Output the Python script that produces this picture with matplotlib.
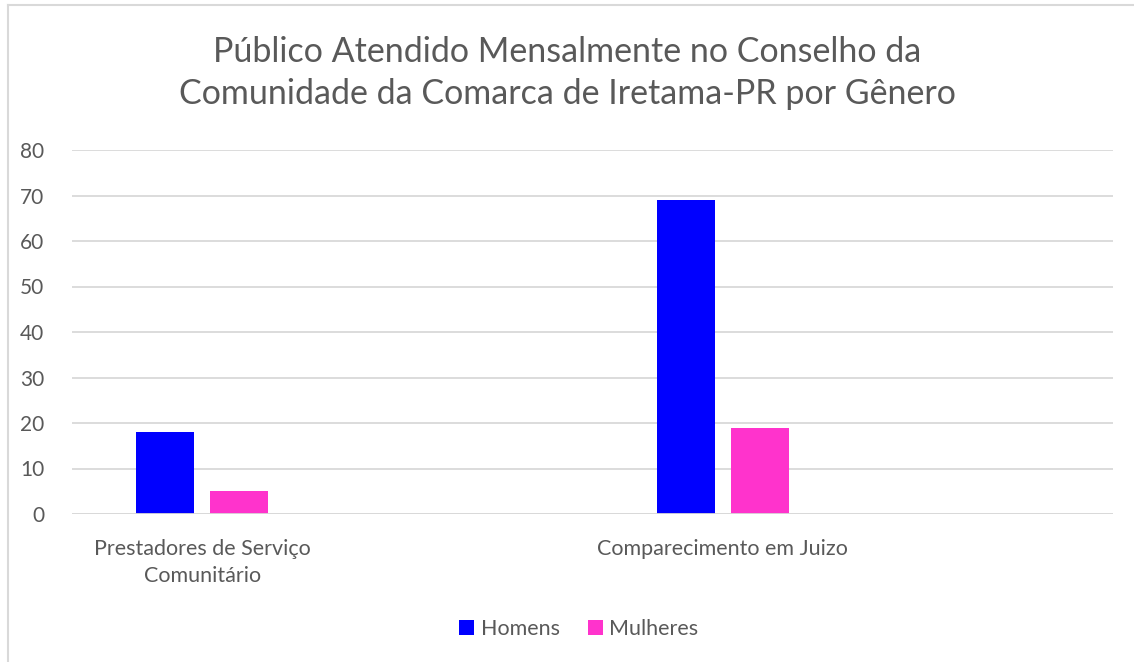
"""
Público atendido mensalmente - gráfico de barras por gênero
"""
import matplotlib
matplotlib.use('Agg')
import matplotlib.pyplot as plt
from matplotlib.lines import Line2D
import numpy as np

# Dados
categorias = ['Prestadores de Serviço\nComunitário', 'Comparecimento em Juizo']
homens = [18, 69]
mulheres = [5, 19]
series = ['Homens', 'Mulheres']
titulo = 'Público Atendido Mensalmente no Conselho da\nComunidade da Comarca de Iretama-PR por Gênero'

cor_homens = '#0000FF'
cor_mulheres = '#FF33CC'
cor_texto = '#595959'
cor_grade = '#D9D9D9'

plt.rcParams['font.family'] = ['Lato', 'DejaVu Sans']

fig = plt.figure(figsize=(11.34, 6.62), dpi=100)
ax = fig.add_axes([72 / 1134, 1 - 514 / 662, (1113 - 72) / 1134, (514 - 150) / 662])

# categorias nas posições 0 e 2 (espaço vazio entre elas, como no Excel)
x = np.arange(len(categorias)) * 2
largura = 0.223
desloc = 0.142

ax.bar(x - desloc, homens, width=largura, color=cor_homens, label=series[0], zorder=3)
ax.bar(x + desloc, mulheres, width=largura, color=cor_mulheres, label=series[1], zorder=3)

ax.set_xlim(-0.5, 3.5)
ax.set_ylim(0, 80)
ax.set_yticks(np.arange(0, 81, 10))
ax.set_xticks(x)
ax.set_xticklabels(categorias, fontsize=15.5, color=cor_texto, linespacing=1.45)
ax.tick_params(axis='y', length=0, labelsize=15, labelcolor=cor_texto, pad=20)
ax.tick_params(axis='x', length=0, labelcolor=cor_texto, pad=18)

ax.grid(axis='y', color=cor_grade, linewidth=1.3, zorder=0)
for lado in ax.spines.values():
    lado.set_visible(False)
ax.axhline(0, color=cor_grade, linewidth=1.3, zorder=4)

# Título
fig.text(0.5, 1 - 73 / 662, titulo, ha='center', va='center', fontsize=24.5,
         color=cor_texto, linespacing=1.38)

# Legenda
ax.legend(loc='center', bbox_to_anchor=((579 - 72) / 1041, (514 - 629) / (514 - 150)),
          ncol=2, frameon=False, fontsize=15.5, labelcolor=cor_texto,
          handlelength=0.7, handleheight=0.7, handletextpad=0.3,
          columnspacing=1.3)

# Borda do gráfico (cortada à direita e embaixo)
fig.add_artist(Line2D([7.5 / 1134, 7.5 / 1134], [0, 1 - 5 / 662],
                      transform=fig.transFigure, color=cor_grade, linewidth=1.5))
fig.add_artist(Line2D([7.5 / 1134, 1], [1 - 5 / 662, 1 - 5 / 662],
                      transform=fig.transFigure, color=cor_grade, linewidth=1.5))

fig.savefig('out.png', dpi=100)
plt.close(fig)
